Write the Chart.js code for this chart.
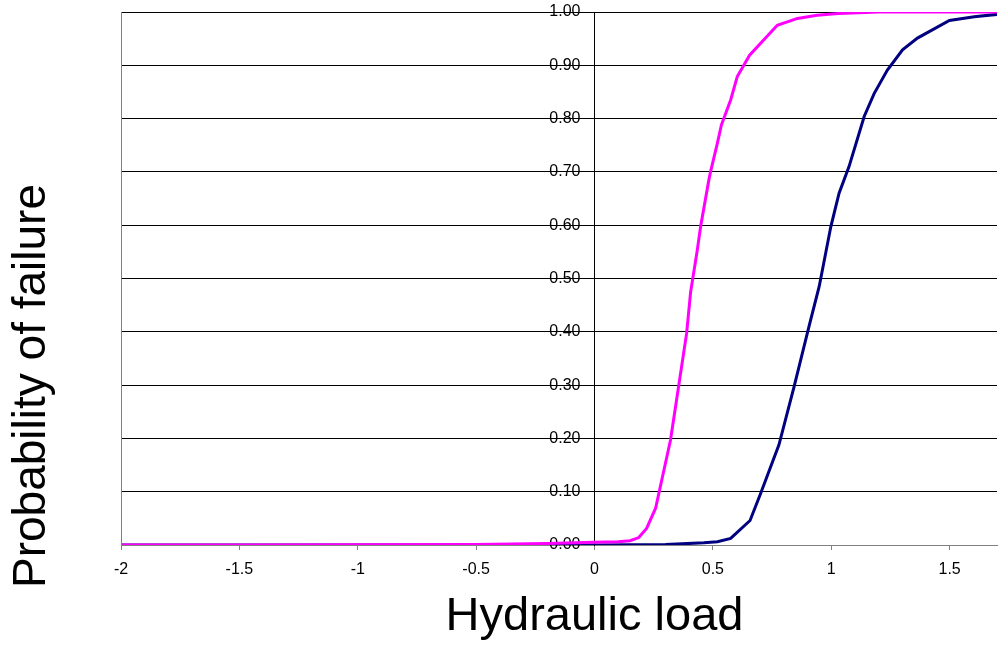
<!DOCTYPE html>
<html>
<head>
<meta charset="utf-8">
<script src="https://cdn.jsdelivr.net/npm/chart.js@4/dist/chart.umd.min.js"></script>
<style>
  html, body { margin: 0; padding: 0; background: #fff; }
  #wrap { width: 999px; height: 645px; position: relative; }
</style>
</head>
<body>
<div id="wrap"><canvas id="chart"></canvas></div>
<script>
// values
var magentaX = [-2, -1.5, -1, -0.5, -0.2, 0, 0.1, 0.15, 0.187, 0.22, 0.258, 0.321, 0.389, 0.406, 0.434, 0.448, 0.483, 0.49, 0.519, 0.536, 0.575, 0.603, 0.655, 0.772, 0.857, 0.94, 1.03, 1.2, 1.7];
var magentaY = [0, 0, 0.0005, 0.001, 0.003, 0.005, 0.006, 0.008, 0.014, 0.031, 0.069, 0.197, 0.397, 0.475, 0.553, 0.597, 0.685, 0.70, 0.754, 0.788, 0.835, 0.879, 0.919, 0.975, 0.988, 0.994, 0.997, 1.0, 1.0];
var navyX = [-2, -1, 0, 0.3, 0.462, 0.519, 0.575, 0.657, 0.702, 0.779, 0.843, 0.906, 0.949, 0.998, 1.033, 1.075, 1.139, 1.181, 1.237, 1.301, 1.364, 1.499, 1.604, 1.71];
var navyY = [0, 0, 0, 0.001, 0.004, 0.006, 0.0125, 0.046, 0.097, 0.188, 0.297, 0.41, 0.485, 0.597, 0.66, 0.71, 0.804, 0.847, 0.891, 0.929, 0.951, 0.984, 0.991, 0.996];
var xTicks = [-2, -1.5, -1, -0.5, 0, 0.5, 1, 1.5];
var yTicks = [0, 0.1, 0.2, 0.3, 0.4, 0.5, 0.6, 0.7, 0.8, 0.9, 1.0];
var xTitle = 'Hydraulic load';
var yTitle = 'Probability of failure';

function pts(xs, ys) {
    return xs.map(function (x, i) { return { x: x, y: ys[i] }; });
}

// y labels sit left of the axis at x=0 (chart.js ignores padding for a positioned axis)
var yLabelsPlugin = {
    id: 'yLabels',
    beforeDatasetsDraw: function (chart) {
        var ctx = chart.ctx, ys = chart.scales.y;
        var axisX = chart.scales.x.getPixelForValue(0);
        ctx.save();
        ctx.fillStyle = '#000';
        ctx.font = '16px "Liberation Sans", Arial, sans-serif';
        ctx.textAlign = 'right';
        ctx.textBaseline = 'middle';
        yTicks.forEach(function (v) {
            ctx.fillText(v.toFixed(2), axisX - 14, ys.getPixelForValue(v));
        });
        ctx.restore();
    }
};

// axis titles + left frame line
var titlesPlugin = {
    id: 'titles',
    afterDraw: function (chart) {
        var ctx = chart.ctx, a = chart.chartArea;
        ctx.save();
        ctx.strokeStyle = '#808080';
        ctx.lineWidth = 1;
        ctx.beginPath();
        ctx.moveTo(a.left + 0.5, a.top);
        ctx.lineTo(a.left + 0.5, a.bottom);
        ctx.stroke();

        ctx.fillStyle = '#000';
        ctx.textAlign = 'center';
        ctx.textBaseline = 'alphabetic';
        ctx.font = '47px "Liberation Sans", Arial, sans-serif';
        ctx.fillText(xTitle, chart.scales.x.getPixelForValue(0), 630);

        ctx.font = '46px "Liberation Sans", Arial, sans-serif';
        ctx.translate(45, 386);
        ctx.rotate(-Math.PI / 2);
        ctx.fillText(yTitle, 0, 0);
        ctx.restore();
    }
};

new Chart(document.getElementById('chart').getContext('2d'), {
    type: 'scatter',
    data: {
        datasets: [
            { label: 'A', data: pts(magentaX, magentaY), showLine: true, borderColor: '#ff00ff', borderWidth: 3, pointRadius: 0, tension: 0 },
            { label: 'B', data: pts(navyX, navyY), showLine: true, borderColor: '#000080', borderWidth: 3, pointRadius: 0, tension: 0 }
        ]
    },
    options: {
        responsive: true,
        maintainAspectRatio: false,
        animation: false,
        layout: { padding: { left: 121, top: 12, right: 2, bottom: 0 } },
        plugins: { legend: { display: false }, tooltip: { enabled: false } },
        scales: {
            x: {
                type: 'linear', min: -2, max: 1.7,
                afterBuildTicks: function (s) { s.ticks = xTicks.map(function (v) { return { value: v }; }); },
                afterFit: function (s) { s.height = 100; },
                grid: { display: true, drawOnChartArea: false, drawTicks: true, tickLength: 5, color: '#808080' },
                border: { display: true, color: '#808080', width: 1 },
                ticks: {
                    color: '#000', font: { family: '"Liberation Sans", Arial', size: 16 }, padding: 10, maxRotation: 0, autoSkip: false,
                    callback: function (v) { return String(v); }
                }
            },
            y: {
                type: 'linear', min: 0, max: 1,
                position: { x: 0 },
                afterBuildTicks: function (s) { s.ticks = yTicks.map(function (v) { return { value: v }; }); },
                grid: { display: true, drawTicks: true, tickLength: 13, color: '#000' },
                border: { display: true, color: '#000', width: 1 },
                ticks: { display: false }
            }
        }
    },
    plugins: [yLabelsPlugin, titlesPlugin]
});
</script>
</body>
</html>
